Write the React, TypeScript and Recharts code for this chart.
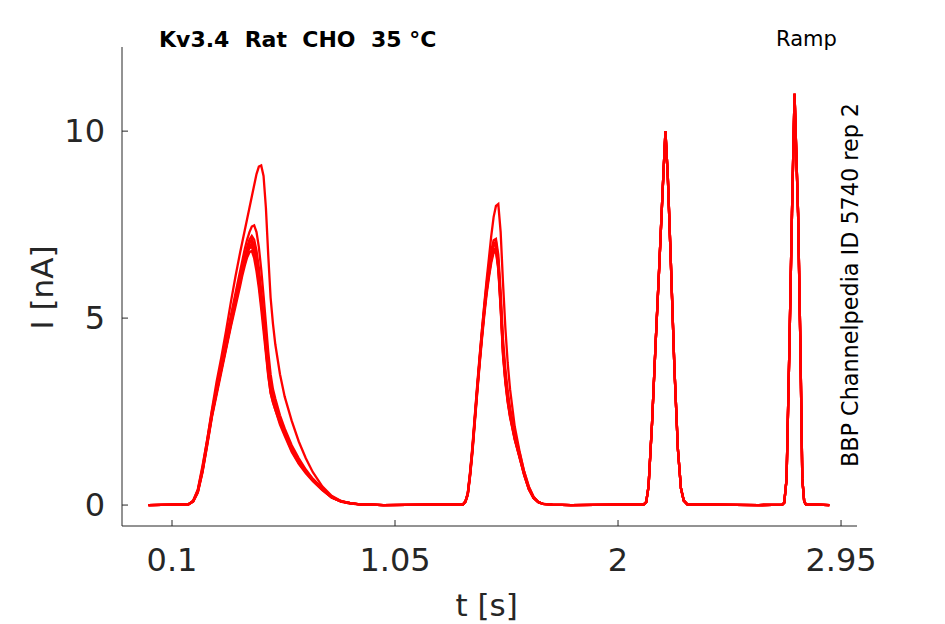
import { LineChart, Line, XAxis, YAxis } from 'recharts'

// time grid (s) for the first ramp response
const firstTimes = [
	0.0, 0.17, 0.19, 0.21, 0.23, 0.25, 0.27, 0.29, 0.31, 0.33, 0.35, 0.37, 0.39, 0.4, 0.41, 0.42, 0.43, 0.44, 0.45, 0.46,
	0.47, 0.48, 0.49, 0.5, 0.51, 0.52, 0.53, 0.54, 0.56, 0.58, 0.61, 0.64, 0.67, 0.7, 0.74, 0.78, 0.82, 0.86, 0.9, 0.95,
]
// time grid (s) for the second ramp response
const secondTimes = [
	1.0, 1.2, 1.34, 1.35, 1.36, 1.37, 1.38, 1.39, 1.4, 1.41, 1.42, 1.43, 1.44, 1.45, 1.46, 1.47, 1.48, 1.49, 1.5, 1.51,
	1.52, 1.53, 1.54, 1.56, 1.58, 1.6, 1.62, 1.64, 1.66, 1.68, 1.72,
]
// the two fast ramps at the end overlap for every sweep
const lateTimes = [
	1.8, 2.0, 2.11, 2.12, 2.13, 2.145, 2.16, 2.175, 2.19, 2.202, 2.212, 2.225, 2.24, 2.255, 2.268, 2.28, 2.295, 2.4, 2.6,
	2.7, 2.708, 2.718, 2.73, 2.741, 2.752, 2.767, 2.777, 2.785, 2.793, 2.8, 2.85, 2.9,
]
const lateCurrent = [
	0, 0.01, 0.02, 0.08, 0.5, 2.2, 4.3, 6.3, 8.4, 10.0, 8.8, 6.5, 3.7, 1.5, 0.45, 0.12, 0.02, 0.01, 0, 0.01, 0.06, 0.7,
	4.2, 7.8, 11.0, 7.8, 4.2, 0.7, 0.1, 0.02, 0.01, 0,
]

// sweep currents (nA)
const sweepHighFirst = [
	0, 0.02, 0.12, 0.42, 1.05, 1.75, 2.55, 3.3, 3.95, 4.65, 5.4, 6.1, 6.75, 7.05, 7.35, 7.65, 7.95, 8.25, 8.55, 8.85, 9.05,
	9.08, 8.8, 7.95, 6.68, 5.55, 4.85, 4.3, 3.5, 2.9, 2.25, 1.7, 1.25, 0.88, 0.5, 0.25, 0.11, 0.05, 0.02, 0.01,
]
const sweepHighSecond = [
	0, 0.01, 0.02, 0.1, 0.32, 0.88, 1.55, 2.35, 3.15, 3.9, 4.65, 5.35, 6.0, 6.6, 7.2, 7.7, 8.0, 8.05, 7.3, 5.95, 4.75, 3.8,
	3.1, 2.1, 1.45, 0.9, 0.5, 0.22, 0.09, 0.03, 0.01,
]
const sweepBFirst = [
	0, 0.02, 0.11, 0.4, 1.0, 1.75, 2.5, 3.15, 3.8, 4.45, 5.05, 5.65, 6.25, 6.55, 6.85, 7.1, 7.3, 7.45, 7.48, 7.3, 6.9, 6.3,
	5.6, 4.85, 4.1, 3.5, 3.1, 2.85, 2.4, 2.05, 1.6, 1.25, 0.95, 0.7, 0.45, 0.22, 0.1, 0.05, 0.02, 0.01,
]
const sweepBSecond = [
	0, 0.01, 0.02, 0.1, 0.32, 0.9, 1.6, 2.4, 3.2, 3.95, 4.65, 5.3, 5.9, 6.4, 6.8, 7.08, 7.12, 6.7, 5.7, 4.45, 3.65, 3.05,
	2.6, 1.95, 1.42, 0.9, 0.48, 0.22, 0.09, 0.03, 0.01,
]
const sweepCFirst = [
	0, 0.02, 0.1, 0.36, 0.92, 1.65, 2.4, 3.05, 3.7, 4.3, 4.9, 5.5, 6.05, 6.35, 6.65, 6.9, 7.1, 7.2, 7.1, 6.8, 6.35, 5.75,
	5.1, 4.45, 3.8, 3.25, 2.95, 2.75, 2.3, 2.0, 1.55, 1.2, 0.92, 0.7, 0.44, 0.22, 0.1, 0.05, 0.02, 0.01,
]
const sweepCSecond = [
	0, 0.01, 0.02, 0.09, 0.3, 0.85, 1.52, 2.32, 3.1, 3.85, 4.55, 5.2, 5.78, 6.25, 6.65, 6.92, 6.98, 6.5, 5.45, 4.2, 3.45,
	2.9, 2.48, 1.82, 1.33, 0.84, 0.44, 0.2, 0.08, 0.03, 0.01,
]
const sweepDFirst = [
	0, 0.02, 0.09, 0.34, 0.9, 1.62, 2.38, 3.0, 3.62, 4.22, 4.82, 5.4, 5.95, 6.25, 6.55, 6.8, 7.0, 7.1, 6.95, 6.6, 6.1, 5.55,
	4.95, 4.3, 3.7, 3.2, 2.9, 2.7, 2.28, 1.97, 1.52, 1.18, 0.9, 0.68, 0.43, 0.21, 0.1, 0.05, 0.02, 0.01,
]
const sweepDSecond = [
	0, 0.01, 0.02, 0.09, 0.28, 0.8, 1.45, 2.25, 3.02, 3.78, 4.48, 5.12, 5.7, 6.15, 6.55, 6.83, 6.88, 6.4, 5.35, 4.1, 3.35,
	2.82, 2.4, 1.78, 1.3, 0.82, 0.43, 0.19, 0.08, 0.03, 0.01,
]
const sweepEFirst = [
	0, 0.02, 0.1, 0.38, 0.95, 1.7, 2.45, 3.05, 3.65, 4.25, 4.85, 5.45, 6.0, 6.3, 6.55, 6.75, 6.87, 6.9, 6.75, 6.4, 5.95,
	5.4, 4.85, 4.2, 3.6, 3.1, 2.85, 2.65, 2.25, 1.95, 1.5, 1.15, 0.9, 0.68, 0.42, 0.2, 0.1, 0.05, 0.02, 0.01,
]
const sweepESecond = [
	0, 0.01, 0.02, 0.1, 0.3, 0.84, 1.5, 2.3, 3.1, 3.85, 4.55, 5.2, 5.8, 6.25, 6.7, 6.98, 7.05, 6.55, 5.5, 4.25, 3.5, 2.95,
	2.5, 1.85, 1.35, 0.85, 0.45, 0.2, 0.08, 0.03, 0.01,
]
const sweepFFirst = [
	0, 0.02, 0.1, 0.37, 0.94, 1.68, 2.42, 3.02, 3.62, 4.2, 4.8, 5.4, 5.95, 6.25, 6.5, 6.72, 6.9, 7.0, 6.85, 6.5, 6.0, 5.45,
	4.85, 4.15, 3.5, 3.0, 2.75, 2.55, 2.15, 1.85, 1.42, 1.1, 0.85, 0.64, 0.4, 0.2, 0.09, 0.04, 0.02, 0.01,
]
const sweepFSecond = [
	0, 0.01, 0.02, 0.08, 0.27, 0.78, 1.42, 2.2, 2.98, 3.72, 4.42, 5.05, 5.62, 6.08, 6.48, 6.75, 6.78, 6.3, 5.25, 4.0, 3.28,
	2.75, 2.35, 1.75, 1.28, 0.8, 0.42, 0.19, 0.07, 0.03, 0.01,
]
const sweepGFirst = [
	0, 0.02, 0.09, 0.33, 0.88, 1.6, 2.35, 2.95, 3.55, 4.15, 4.75, 5.3, 5.85, 6.15, 6.4, 6.62, 6.76, 6.8, 6.6, 6.25, 5.8,
	5.25, 4.65, 4.05, 3.45, 3.0, 2.75, 2.55, 2.2, 1.9, 1.45, 1.12, 0.88, 0.66, 0.41, 0.2, 0.09, 0.04, 0.02, 0.01,
]
const sweepGSecond = [
	0, 0.01, 0.02, 0.09, 0.29, 0.82, 1.48, 2.28, 3.05, 3.8, 4.5, 5.15, 5.72, 6.18, 6.58, 6.85, 6.82, 6.35, 5.3, 4.05, 3.32,
	2.78, 2.38, 1.76, 1.29, 0.81, 0.42, 0.19, 0.08, 0.03, 0.01,
]

const sweeps = [
	[sweepGFirst, sweepGSecond],
	[sweepFFirst, sweepFSecond],
	[sweepEFirst, sweepESecond],
	[sweepDFirst, sweepDSecond],
	[sweepCFirst, sweepCSecond],
	[sweepBFirst, sweepBSecond],
	[sweepHighFirst, sweepHighSecond],
]

const xTicks = [0.1, 1.05, 2, 2.95]
const yTicks = [0, 5, 10]

const ink = '#262626'
const font = '"DejaVu Sans", sans-serif'

export default function App() {
	const times = [...firstTimes, ...secondTimes, ...lateTimes]
	const traces = sweeps.map(([a, b]) => [...a, ...b, ...lateCurrent])
	const rows = times.map((t, i) => {
		const row: Record<string, number> = { t }
		traces.forEach((tr, k) => {
			row['s' + k] = tr[i]
		})
		return row
	})

	return (
		<div style={{ position: 'fixed', left: 0, top: 0, width: 945, height: 624, background: '#fff' }}>
			<LineChart width={945} height={624} data={rows} margin={{ top: 47, right: 88, bottom: 68, left: 62 }}>
				<XAxis
					dataKey='t'
					type='number'
					domain={[-0.113, 3.018]}
					ticks={xTicks}
					interval={0}
					allowDataOverflow
					height={30}
					tickSize={-6}
					tickMargin={28}
					stroke={ink}
					tick={{ fill: ink, fontSize: 32, fontFamily: font }}
				/>
				<YAxis
					type='number'
					domain={[-0.56, 12.25]}
					ticks={yTicks}
					interval={0}
					allowDataOverflow
					width={60}
					tickSize={-6}
					tickMargin={23}
					stroke={ink}
					tick={{ fill: ink, fontSize: 32, fontFamily: font }}
				/>
				{traces.map((_, k) => (
					<Line
						key={k}
						dataKey={'s' + k}
						type='linear'
						stroke='#ff0000'
						strokeWidth={2.3}
						dot={false}
						isAnimationActive={false}
					/>
				))}
			</LineChart>
			<svg
				width={945}
				height={624}
				style={{ position: 'absolute', left: 0, top: 0, pointerEvents: 'none' }}
				fontFamily={font}
			>
				<text x={159} y={46.7} fontSize={22} fontWeight='bold' fill='#000' style={{ whiteSpace: 'pre' }}>
					{'Kv3.4  Rat  CHO  35 °C'}
				</text>
				<text x={776} y={46} fontSize={21} fill='#000'>
					Ramp
				</text>
				<text
					transform='translate(858 285) rotate(-90)'
					textAnchor='middle'
					fontSize={22.3}
					fill='#000'
				>
					BBP Channelpedia ID 5740 rep 2
				</text>
				<text transform='translate(53 287.5) rotate(-90)' textAnchor='middle' fontSize={31} fill={ink}>
					I [nA]
				</text>
				<text x={486.7} y={616} textAnchor='middle' fontSize={31} fill={ink}>
					t [s]
				</text>
			</svg>
		</div>
	)
}
